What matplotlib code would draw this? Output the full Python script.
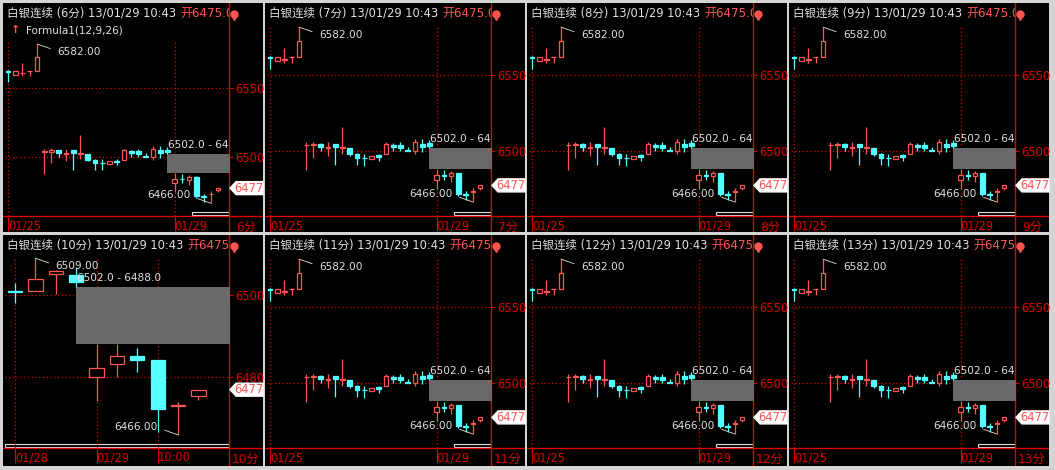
import numpy as np
import matplotlib
matplotlib.use("Agg")
import matplotlib.pyplot as plt
from matplotlib.patches import Rectangle, Polygon
from matplotlib import transforms


# -----------------------------
# Data
# -----------------------------
# the 6,7,8,9,11,12,13 min panels all show the same 30 bars
open_a = [6562, 6559.5, 6560.5, 6562, 6562.5, 6503.5, 6503.5, 6504.5, 6502, 6504.5,
          6502, 6502, 6497.5, 6495.5, 6494.5, 6497, 6497.5, 6504, 6504, 6500.5,
          6500, 6504.5, 6505, 6480.5, 6484, 6483, 6485, 6471, 6472.5, 6475.5]
high_a = [6563, 6562, 6568, 6562.5, 6582, 6505.5, 6506, 6505, 6505.5, 6504.5,
          6515.5, 6502, 6498.5, 6498, 6496.5, 6498, 6505.5, 6505, 6505.5, 6502.5,
          6508, 6507.5, 6507, 6488, 6487, 6486.5, 6485.5, 6473, 6475, 6477]
low_a = [6554, 6559.5, 6558.5, 6558.5, 6562, 6487, 6495, 6499.5, 6496.5, 6490.5,
         6498, 6496.5, 6490.5, 6490, 6494.5, 6493.5, 6497.5, 6500, 6500, 6500,
         6497.5, 6499, 6502, 6474.5, 6480.5, 6479, 6470, 6467, 6466, 6474]
close_a = [6561.5, 6562, 6561, 6562.5, 6572.5, 6504, 6504.5, 6502.5, 6502.5, 6502.5,
           6502.5, 6497.5, 6495.5, 6495, 6496.5, 6496, 6504.5, 6502.5, 6502, 6500,
           6505.5, 6502.5, 6503, 6484, 6483.5, 6485, 6471, 6470.5, 6473, 6477]
date_idx_a = [0, 23]
date_lbl_a = ["01/25", "01/29"]
price_ticks_a = [6550, 6500]
ylim_a = (6456.7, 6583.4)
gap_start_a = 22

# the 10 min panel
open_b = [6501, 6501.1, 6505.1, 6505, 6480.2, 6483.3, 6485.2, 6484.2, 6473, 6475.4]
high_b = [6503, 6509, 6506.2, 6506.8, 6488, 6488, 6487.1, 6484.2, 6474.1, 6477]
low_b = [6498.2, 6501.1, 6500.2, 6502, 6474.2, 6480, 6481.3, 6466.7, 6466, 6474.4]
close_b = [6500.9, 6503.9, 6505.9, 6503.2, 6482.3, 6485.1, 6484.3, 6472.3, 6473.2, 6477]
date_idx_b = [0, 4, 7]
date_lbl_b = ["01/28", "01/29", "10:00"]
price_ticks_b = [6500, 6480]
ylim_b = (6462.8, 6509.3)
gap_start_b = 3

periods = ["6分", "7分", "8分", "9分", "10分", "11分", "12分", "13分"]
name = "白银连续"
stamp = "13/01/29 10:43"
open_price = 6475.0
gap_hi, gap_lo = 6502.0, 6488.0
formula = "Formula1(12,9,26)"

# -----------------------------
# Style / layout
# -----------------------------
RED = "#ff5454"
CYAN = "#54ffff"
DARKRED = "#dd0000"
LIGHT = "#e0e0e0"
GRAY = "#696969"
FONT_CJK = ["DejaVu Sans", "Noto Sans CJK SC"]

FIG_W, FIG_H = 1055, 470
COL_X = [3, 265, 527, 789]
ROW_Y = [3, 235]
ROW_H = [229, 231]
PANEL_W = 260


def frac(x, y, w, h):
    return [x / FIG_W, 1 - (y + h) / FIG_H, w / FIG_W, h / FIG_H]


def draw_candles(ax, o, h, l, c, width):
    o, h, l, c = map(np.asarray, (o, h, l, c))
    x = np.arange(len(o))
    up = c >= o
    ax.vlines(x[up], l[up], h[up], color=RED, lw=0.9, zorder=1.5)
    ax.vlines(x[~up], l[~up], h[~up], color=CYAN, lw=0.9, zorder=1.5)
    bottom = np.minimum(o, c)
    height = np.abs(c - o)
    ax.bar(x[up], height[up], width, bottom[up], facecolor="black",
           edgecolor=RED, lw=0.9, zorder=2)
    ax.bar(x[~up], height[~up], width, bottom[~up], facecolor=CYAN,
           edgecolor=CYAN, lw=0.9, zorder=2)


fig = plt.figure(figsize=(FIG_W / 100, FIG_H / 100), dpi=100)
fig.patch.set_facecolor("#d4d4d4")

for k, period in enumerate(periods):
    row, col = divmod(k, 4)
    x0, y0, ph = COL_X[col], ROW_Y[row], ROW_H[row]

    if period == "10分":
        o, h, l, c = open_b, high_b, low_b, close_b
        d_idx, d_lbl, p_ticks, ylim, gs = date_idx_b, date_lbl_b, price_ticks_b, ylim_b, gap_start_b
        xlim = (-0.49, 10.5)
        width = 0.7
        scroll = (2, 224)
    else:
        o, h, l, c = open_a, high_a, low_a, close_a
        d_idx, d_lbl, p_ticks, ylim, gs = date_idx_a, date_lbl_a, price_ticks_a, ylim_a, gap_start_a
        xlim = (-0.41, 30.5)
        width = 0.65
        scroll = (189, 37)

    # panel background and frame lines (pixel coords inside the panel)
    bg = fig.add_axes(frac(x0, y0, PANEL_W, ph))
    bg.set_facecolor("black")
    bg.set_xlim(0, PANEL_W)
    bg.set_ylim(ph, 0)
    bg.set_xticks([])
    bg.set_yticks([])
    for s in bg.spines.values():
        s.set_visible(False)
    bg.plot([226, 226], [0, ph], color=DARKRED, lw=1)
    bg.plot([0, PANEL_W], [213, 213], color=DARKRED, lw=1)
    bg.add_patch(Rectangle((scroll[0], 209), scroll[1], 2.5, facecolor="black",
                           edgecolor=LIGHT, lw=0.8))
    bg.text(243, 224, period, color=DARKRED, fontsize=8.8, family=FONT_CJK,
            ha="center", va="center")
    bg.plot(230.5, 10.5, "o", ms=5, color=RED)
    bg.plot(230.5, 14, "v", ms=4.5, color=RED)
    if k == 0:
        bg.text(13, 27, "↑", color=RED, fontsize=8, ha="center", va="center",
                fontweight="bold")
        bg.text(23, 27, formula, color=LIGHT, fontsize=7.5, va="center")

    # title line, clipped at the red line
    hdr = fig.add_axes(frac(x0, y0, 226, 21))
    hdr.axis("off")
    hdr.set_xlim(0, 226)
    hdr.set_ylim(21, 0)
    t1 = hdr.text(4, 10.5, f"{name} ({period}) {stamp}", color=LIGHT,
                  fontsize=8.3, family=FONT_CJK, va="center", clip_on=True)
    hdr.annotate(f"开{open_price:.1f}", xy=(1, 0.5), xycoords=t1, xytext=(4, 0),
                 textcoords="offset pixels", color=RED, fontsize=8.6,
                 family=FONT_CJK, va="center", ha="left", clip_on=True)

    # price chart
    top = 39 if k == 0 else 22
    ax = fig.add_axes(frac(x0 + 2, y0 + top, 224, 213 - top))
    ax.patch.set_alpha(0)
    for s in ax.spines.values():
        s.set_visible(False)
    ax.set_xlim(*xlim)
    ax.set_ylim(*ylim)

    n = len(o)
    ax.fill_between([gs, n + 1], gap_lo, gap_hi, color=GRAY, lw=0, zorder=1)
    draw_candles(ax, o, h, l, c, width)

    ax.annotate(f"{gap_hi:.1f} - {gap_lo:.1f}", xy=(gs, gap_hi), xytext=(1, 4),
                textcoords="offset pixels", color=LIGHT, fontsize=7.6,
                va="bottom", ha="left", clip_on=True, zorder=3)

    ih = int(np.argmax(h))
    il = int(np.argmin(l))
    ax.annotate(f"{h[ih]:.2f}", xy=(ih, h[ih]), xytext=(20, -8),
                textcoords="offset pixels", color=LIGHT, fontsize=7.6,
                ha="left", va="center", zorder=3,
                arrowprops=dict(arrowstyle="-", color=LIGHT, lw=0.6,
                                shrinkA=3, shrinkB=0, relpos=(0, 0.6)))
    ax.annotate(f"{l[il]:.2f}", xy=(il, l[il]), xytext=(-20, 8),
                textcoords="offset pixels", color=LIGHT, fontsize=7.6,
                ha="right", va="center", zorder=3,
                arrowprops=dict(arrowstyle="-", color=LIGHT, lw=0.6,
                                shrinkA=3, shrinkB=0, relpos=(1, 0.4)))

    # last price tag on the price scale
    tag_tr = transforms.Affine2D() + transforms.ScaledTranslation(
        1, c[-1], ax.get_yaxis_transform())
    tag = Polygon([(1, 0), (7, 6.5), (34, 6.5), (34, -6.5), (7, -6.5)],
                  closed=True, facecolor="white", edgecolor="white",
                  transform=tag_tr, clip_on=False, zorder=4)
    ax.add_patch(tag)
    ax.annotate(f"{c[-1]:.0f}", xy=(1, c[-1]), xycoords=ax.get_yaxis_transform(),
                xytext=(20, 0), textcoords="offset pixels", color=RED,
                fontsize=8.3, ha="center", va="center", annotation_clip=False,
                zorder=5)

    ax.yaxis.tick_right()
    ax.set_yticks(p_ticks)
    ax.set_yticklabels([str(p) for p in p_ticks])
    ax.tick_params(axis="y", colors=DARKRED, length=2.9, width=0.8, pad=1.4,
                   labelsize=8.3)
    ax.set_xticks(d_idx)
    ax.set_xticklabels(d_lbl)
    for lbl in ax.get_xticklabels():
        lbl.set_ha("left")
    ax.tick_params(axis="x", colors=DARKRED, length=11, width=0.8, pad=-8.5,
                   labelsize=8.3)
    ax.grid(True, color=DARKRED, ls=(0, (1, 2)), lw=0.9)
    ax.set_axisbelow(True)

fig.savefig("out.png", dpi=100, facecolor=fig.get_facecolor())
